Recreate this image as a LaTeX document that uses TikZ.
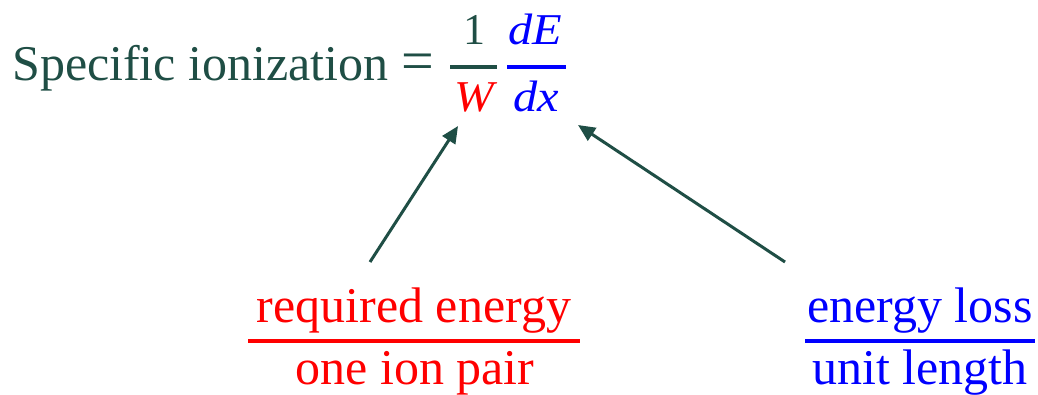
\documentclass[tikz,border=0pt]{standalone}
\usepackage{fontspec}
\setmainfont{Liberation Serif}
\usetikzlibrary{arrows.meta}
\definecolor{dkgreen}{HTML}{1F4E45}
\definecolor{myred}{HTML}{FF0000}
\definecolor{myblue}{HTML}{0000FF}
\tikzset{
  txt/.style={inner sep=0pt, anchor=base, font=\fontsize{50}{60}\selectfont},
  mth/.style={inner sep=0pt, anchor=base, font=\fontsize{44}{50}\selectfont\itshape},
  fracbar/.style={line width=3.5pt},
  pointer/.style={draw=dkgreen, line width=3pt, -{Triangle[length=17pt,width=15pt]}}
}
\begin{document}
\begin{tikzpicture}[x=1pt,y=-1pt]
\useasboundingbox (0,0) rectangle (1038,395);
% top formula
\node[txt, anchor=base west, text=dkgreen] (spec) at (12,81) {Specific ionization};
\node[inner sep=0pt, anchor=center, text=dkgreen, font=\fontsize{58}{60}\selectfont] (eq) at (418,67) {=};
\node[inner sep=0pt, anchor=base, font=\fontsize{44}{50}\selectfont, text=dkgreen] (one) at (474,45) {1};
\draw[fracbar, dkgreen] (450,67) -- (497,67);
\node[mth, text=myred] (W) at (474,112) {\scalebox{1.08}[1]{W}};
\node[mth, text=myblue] (dE) at (535,45) {\scalebox{1.1}[1]{dE}};
\draw[fracbar, myblue] (507,67) -- (566,67);
\node[mth, text=myblue] (dx) at (536,112) {\scalebox{1.1}[1]{dx}};
% bottom labels
\node[txt, text=myred] (req) at (414,322) {required energy};
\draw[line width=4pt, myred] (248,341) -- (580,341);
\node[txt, text=myred] (pair) at (415,384) {one ion pair};
\node[txt, text=myblue] (loss) at (920,322) {energy loss};
\draw[line width=4pt, myblue] (805,341) -- (1035,341);
\node[txt, text=myblue] (unit) at (920,384) {unit length};
% arrows
\coordinate (lt) at (370,262);
\coordinate (lh) at (458,126);
\coordinate (rt) at (785,262);
\coordinate (rh) at (578,125);
\draw[pointer] (lt) -- (lh);
\draw[pointer] (rt) -- (rh);
\end{tikzpicture}
\end{document}
